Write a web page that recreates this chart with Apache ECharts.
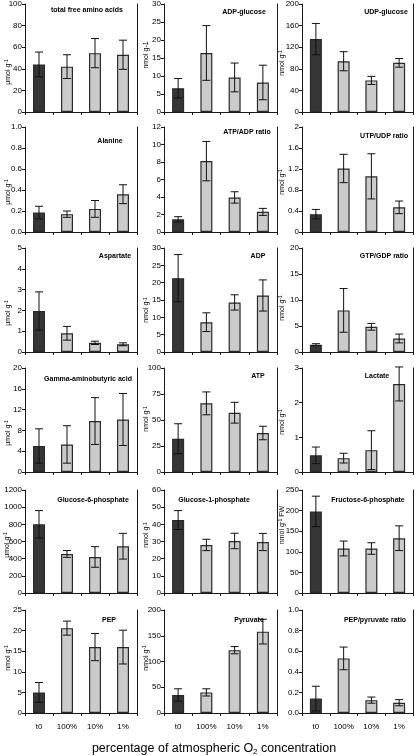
<!DOCTYPE html>
<html><head><meta charset="utf-8">
<script src="https://cdn.jsdelivr.net/npm/echarts@6/dist/echarts.min.js"></script>
<style>html,body{margin:0;padding:0;background:#fff}#c{width:416px;height:756px}</style>
</head><body><div id="c"></div>
<script>
// ---------------- data ----------------
const categories = ['t0', '100%', '10%', '1%'];
const panelTitles = [
  'total free amino acids', 'ADP-glucose', 'UDP-glucose',
  'Alanine', 'ATP/ADP ratio', 'UTP/UDP ratio',
  'Aspartate', 'ADP', 'GTP/GDP ratio',
  'Gamma-aminobutyric acid', 'ATP', 'Lactate',
  'Glucose-6-phosphate', 'Glucose-1-phosphate', 'Fructose-6-phosphate',
  'PEP', 'Pyruvate', 'PEP/pyruvate ratio'
];
const yUnits = [
  'µmol g{s|-1}', 'nmol g-1', 'nmol g{s|-1}',
  'µmol g{s|-1}', '', 'nmol g{s|-1}',
  'µmol g{s|-1}', 'nmol g{s|-1}', 'nmol g{s|-1}',
  'µmol g{s|-1}', 'nmol g{s|-1}', 'nmol g{s|-1}',
  'µmol g{s|-1}', 'nmol g{s|-1}', 'nmol g{s|-1} FW',
  'nmol g{s|-1}', 'nmol g{s|-1}', ''
];
const yMax      = [100, 30, 200, 1.0, 12, 2, 5, 30, 20, 20, 100, 3, 1200, 60, 250, 25, 200, 1.0];
const yInterval = [20, 5, 40, 0.2, 2, 0.4, 1, 5, 5, 4, 25, 1, 200, 10, 50, 5, 50, 0.2];
const yDecimals = [0, 0, 0, 1, 0, -1, 0, 0, 0, 0, 0, 0, 0, 0, 0, 0, 0, 1];
const meanValues = [
  [44, 42, 54.5, 53], [6.6, 16.4, 9.6, 8.2], [135, 94, 58.5, 91],
  [0.185, 0.17, 0.22, 0.36], [1.45, 8.1, 3.95, 2.3], [0.34, 1.21, 1.06, 0.47],
  [1.97, 0.9, 0.44, 0.37], [21.3, 8.6, 14.3, 16.3], [1.4, 8.0, 4.85, 2.6],
  [5.0, 5.3, 9.8, 10.1], [32, 66, 57, 37.5], [0.48, 0.4, 0.63, 2.54],
  [800, 455, 420, 545], [42.5, 28, 30.3, 29.7], [198, 108, 108, 133],
  [5.0, 20.6, 16, 16], [35, 40, 122, 158], [0.14, 0.53, 0.125, 0.1]
];
const errorValues = [
  [11.5, 11, 13.5, 13.5], [2.7, 7.6, 4, 4.8], [29, 17.7, 7.5, 8],
  [0.06, 0.03, 0.08, 0.09], [0.3, 2.25, 0.65, 0.4], [0.09, 0.27, 0.43, 0.12],
  [0.92, 0.33, 0.08, 0.07], [6.8, 2.7, 2.2, 4.5], [0.2, 4.2, 0.65, 0.85],
  [3.3, 3.6, 4.5, 5], [14.4, 11, 10, 6.5], [0.24, 0.14, 0.56, 0.49],
  [160, 40, 120, 150], [5.5, 3.3, 4.5, 5], [37, 18, 14, 30],
  [2.4, 1.7, 3.3, 4.1], [12, 7, 7, 24], [0.12, 0.11, 0.03, 0.03]
];
const xAxisTitle = 'percentage of atmospheric O{sub|2} concentration';

// ---------------- layout ----------------
const colLeft = [25, 164, 302];
const colRight = [137, 277, 413];
const rowTop = [3, 127, 248, 368, 490, 610];
const rowBottom = [112, 232, 352, 472, 593, 713];
const titlePos = [
  [87, 10], [244, 12], [386, 12],
  [110, 141], [247, 132], [384, 136],
  [115, 256], [258, 256], [384, 256],
  [88, 379], [258, 376], [377, 376],
  [93, 500], [214, 500], [368, 500],
  [109, 620], [249, 620], [375, 620]
];
const unitPos = [
  [8, 72], [146.5, 55], [282, 63],
  [8, 192], [0, 0], [282, 182],
  [8, 313], [146.5, 310], [282, 308],
  [8, 433], [146.5, 419], [282, 422],
  [7, 545], [146.5, 535], [282, 525],
  [8, 658], [146, 658], [0, 0]
];

const FONT = '"Liberation Sans", Arial, sans-serif';
const DARK = '#363636', LIGHT = '#cbcbcb', LINE = '#1a1a1a';

const grids = [], xAxes = [], yAxes = [], series = [], graphics = [];
for (let p = 0; p < 18; p++) {
  const r = Math.floor(p / 3), c = p % 3;
  const isBottom = r === 5;
  grids.push({left: colLeft[c], top: rowTop[r], width: colRight[c] - colLeft[c], height: rowBottom[r] - rowTop[r]});
  xAxes.push({
    type: 'category', gridIndex: p, data: categories, boundaryGap: true,
    axisLine: {lineStyle: {color: LINE, width: 1}},
    axisTick: {show: true, length: 3, inside: false, lineStyle: {color: LINE}},
    axisLabel: {show: isBottom, color: '#000', fontSize: 8, fontFamily: FONT, margin: 10, interval: 0},
    splitLine: {show: false}
  });
  const dec = yDecimals[p];
  yAxes.push({
    type: 'value', gridIndex: p, min: 0, max: yMax[p], interval: yInterval[p],
    axisLine: {show: true, lineStyle: {color: LINE, width: 1}},
    axisTick: {show: true, length: 3, inside: false, lineStyle: {color: LINE}},
    axisLabel: {color: '#000', fontSize: 8, fontFamily: FONT, margin: 3,
      formatter: v => dec > 0 ? v.toFixed(dec) : String(+v.toFixed(2))},
    splitLine: {show: false}
  });
  // right frame line
  yAxes.push({
    type: 'value', gridIndex: p, position: 'right', min: 0, max: 1,
    axisLine: {show: true, lineStyle: {color: LINE, width: 1}},
    axisTick: {show: false}, axisLabel: {show: false}, splitLine: {show: false}
  });
  series.push({
    type: 'bar', xAxisIndex: p, yAxisIndex: 2 * p, barWidth: 12,
    data: meanValues[p].map((v, i) => ({value: v, itemStyle: {color: i === 0 ? DARK : LIGHT}})),
    itemStyle: {borderColor: '#2a2a2a', borderWidth: 1.2},
    silent: true, animation: false
  });
  series.push({
    type: 'custom', xAxisIndex: p, yAxisIndex: 2 * p,
    data: meanValues[p].map((v, i) => [i, v, errorValues[p][i]]),
    encode: {x: 0, y: 1},
    renderItem: (params, api) => {
      const x = api.value(0), m = api.value(1), e = api.value(2);
      const hi = api.coord([x, m + e]);
      const lo = api.coord([x, Math.max(0, m - e)]);
      const h = 4;
      const st = {stroke: '#111', lineWidth: 1};
      return {type: 'group', children: [
        {type: 'line', shape: {x1: hi[0], y1: hi[1], x2: lo[0], y2: lo[1]}, style: st},
        {type: 'line', shape: {x1: hi[0] - h, y1: hi[1], x2: hi[0] + h, y2: hi[1]}, style: st},
        {type: 'line', shape: {x1: lo[0] - h, y1: lo[1], x2: lo[0] + h, y2: lo[1]}, style: st}
      ]};
    },
    silent: true, animation: false, z: 5
  });
  graphics.push({
    type: 'text', x: titlePos[p][0], y: titlePos[p][1], z: 10,
    style: {text: panelTitles[p], fill: '#000', font: 'bold 7px ' + FONT, align: 'center', verticalAlign: 'middle'}
  });
  if (yUnits[p]) {
    graphics.push({
      type: 'text', x: unitPos[p][0], y: unitPos[p][1], rotation: Math.PI / 2, z: 10,
      style: {text: yUnits[p], fill: '#000', font: '7px ' + FONT, align: 'center', verticalAlign: 'middle',
        rich: {s: {fontSize: 5, fontFamily: FONT, verticalAlign: 'top', lineHeight: 5, fill: '#000'}}}
    });
  }
}
graphics.push({
  type: 'text', x: 214, y: 749, z: 10,
  style: {text: xAxisTitle, fill: '#000', font: '12.5px ' + FONT, align: 'center', verticalAlign: 'middle',
    rich: {sub: {fontSize: 8, fontFamily: FONT, verticalAlign: 'bottom', lineHeight: 8, fill: '#000'}}}
});

const chart = echarts.init(document.getElementById('c'), null, {renderer: 'canvas'});
chart.setOption({
  animation: false,
  backgroundColor: '#fff',
  grid: grids, xAxis: xAxes, yAxis: yAxes, series: series, graphic: graphics
});
</script></body></html>
